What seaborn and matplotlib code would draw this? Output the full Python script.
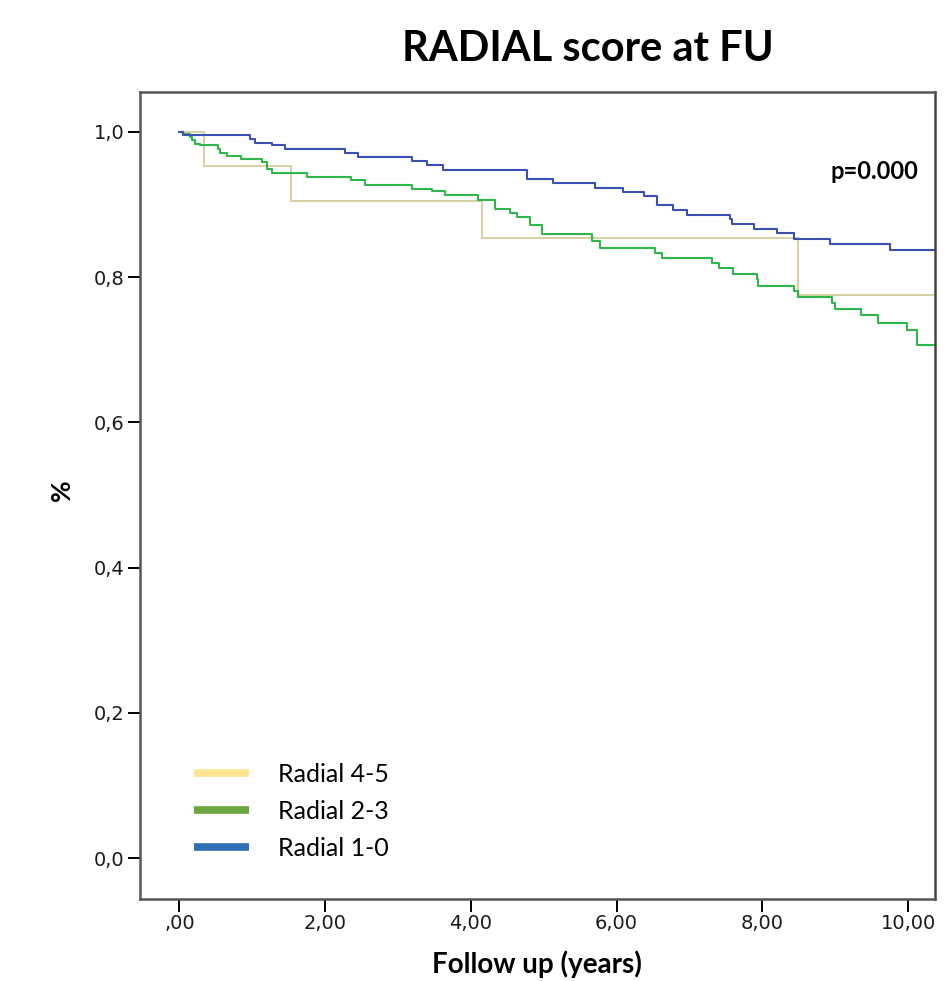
import matplotlib
matplotlib.use("Agg")
import matplotlib.pyplot as plt
from matplotlib.lines import Line2D
from matplotlib.ticker import FuncFormatter
import seaborn as sns
import pandas as pd

# ---- data ----
groups = ["Radial 4-5", "Radial 2-3", "Radial 1-0"]

r45_time = [0.0, 0.33, 1.53, 4.15, 8.49, 10.40]
r45_surv = [1.000, 0.953, 0.905, 0.853, 0.775, 0.775]

r23_time = [0.0, 0.05, 0.14, 0.17, 0.21, 0.28, 0.53, 0.56, 0.65, 0.85, 1.13,
            1.20, 1.27, 1.75, 2.36, 2.55, 3.19, 3.46, 3.64, 4.10, 4.33, 4.54,
            4.63, 4.81, 4.97, 5.66, 5.77, 6.53, 6.62, 7.31, 7.40, 7.60, 7.92,
            7.94, 8.43, 8.49, 8.95, 9.00, 9.36, 9.59, 9.98, 10.12, 10.40]
r23_surv = [1.000, 0.997, 0.993, 0.988, 0.983, 0.981, 0.976, 0.971, 0.967,
            0.962, 0.958, 0.949, 0.943, 0.937, 0.933, 0.927, 0.921, 0.918,
            0.913, 0.906, 0.894, 0.888, 0.882, 0.871, 0.859, 0.850, 0.840,
            0.833, 0.826, 0.819, 0.812, 0.804, 0.797, 0.788, 0.781, 0.773,
            0.764, 0.756, 0.748, 0.737, 0.727, 0.706, 0.706]

r10_time = [0.0, 0.05, 0.97, 1.04, 1.27, 1.45, 2.27, 2.45, 3.19, 3.40, 3.62,
            4.77, 5.13, 5.70, 6.09, 6.37, 6.55, 6.78, 6.96, 7.56, 7.58, 7.88,
            8.20, 8.43, 8.93, 9.75, 10.40]
r10_surv = [1.000, 0.996, 0.990, 0.985, 0.981, 0.976, 0.971, 0.965, 0.959,
            0.954, 0.947, 0.935, 0.930, 0.923, 0.917, 0.911, 0.899, 0.892,
            0.886, 0.880, 0.873, 0.866, 0.861, 0.852, 0.846, 0.837, 0.837]

x_ticks = [0, 2, 4, 6, 8, 10]
y_ticks = [0.0, 0.2, 0.4, 0.6, 0.8, 1.0]

curve_colors = ["#d9d1a3", "#2fb84a", "#3a50b5"]
legend_colors = ["#fde591", "#6aa641", "#2e6fb6"]

df = pd.concat([
    pd.DataFrame({"time": r45_time, "surv": r45_surv, "group": groups[0]}),
    pd.DataFrame({"time": r23_time, "surv": r23_surv, "group": groups[1]}),
    pd.DataFrame({"time": r10_time, "surv": r10_surv, "group": groups[2]}),
], ignore_index=True)

sns.set_style("ticks")
plt.rcParams["font.family"] = ["DejaVu Sans"]

fig = plt.figure(figsize=(9.53, 9.81), dpi=100)
ax = fig.add_axes([140 / 953, 1 - 899 / 981, 795 / 953, 807 / 981])

sns.lineplot(data=df, x="time", y="surv", hue="group", hue_order=groups,
             palette=curve_colors, estimator=None, sort=False,
             drawstyle="steps-post", linewidth=1.5, legend=False, ax=ax)

ax.set_xlim(-0.542, 10.37)
ax.set_ylim(-0.056, 1.0546)
ax.set_xticks(x_ticks)
ax.set_yticks(y_ticks)


def comma_fmt(dec):
    def f(v, pos):
        s = f"{v:.{dec}f}".replace(".", ",")
        if s.startswith("0,") and dec == 2:
            s = s[1:]
        return s
    return f


ax.xaxis.set_major_formatter(FuncFormatter(comma_fmt(2)))
ax.yaxis.set_major_formatter(FuncFormatter(comma_fmt(1)))
ax.tick_params(axis="both", direction="out", length=9, width=1.4,
               color="black", labelsize=14, labelcolor="#1a1a1a", pad=2)
for s in ax.spines.values():
    s.set_visible(True)
    s.set_color("#555555")
    s.set_linewidth(1.8)
ax.spines["right"].set_color("#444444")

ax.set_xlabel("")
ax.set_ylabel("")

fig.text(0.617, 1 - 61 / 981, "RADIAL score at FU", ha="center", va="baseline",
         fontsize=30, fontweight="bold", family="Lato", color="black")
fig.text(62 / 953, 1 - 490 / 981, "%", ha="center", va="center", rotation=90,
         fontsize=19, fontweight="bold", family="Lato", color="black")
fig.text(537 / 953, 1 - 973 / 981, "Follow up (years)", ha="center",
         va="baseline", fontsize=20, fontweight="bold", family="Lato",
         color="black")
fig.text(918 / 953, 1 - 171 / 981, "p=0.000", ha="right", va="center",
         fontsize=17, fontweight="bold", family="Lato", color="black")

handles = [Line2D([0], [0], color=c, lw=5.5, solid_capstyle="butt")
           for c in legend_colors]
leg = ax.legend(handles, groups, loc="upper left",
                bbox_to_anchor=((194 - 140) / 795, (899 - 763) / 807),
                frameon=False, borderpad=0, borderaxespad=0,
                handlelength=2.2, handletextpad=1.15, labelspacing=0.55,
                prop={"family": "Lato", "size": 18})
for t in leg.get_texts():
    t.set_color("black")

fig.savefig("out.png", dpi=100)
